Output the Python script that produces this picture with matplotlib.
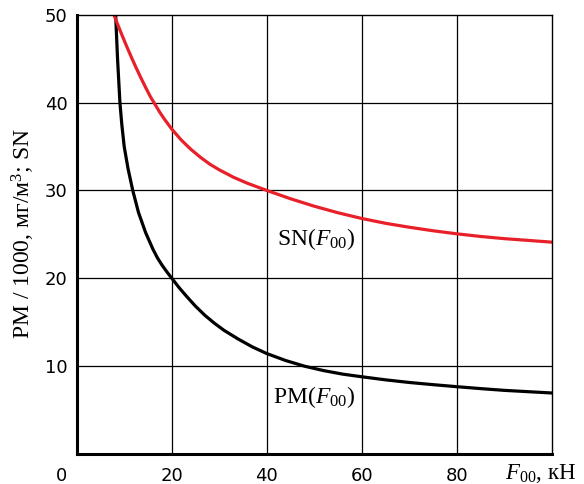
import matplotlib
matplotlib.use('Agg')
import matplotlib.pyplot as plt
from matplotlib.transforms import ScaledTranslation

# values
pm_x = [8.2, 8.4, 8.6, 8.85, 9.1, 9.5, 10.0, 10.8, 11.8, 13.0, 14.5, 16.0, 17.0, 18.0, 19.0,
        20.0, 21.5, 23.0, 25.0, 27.0, 29.0, 31.0, 34.0, 37.0, 40.0, 44.0, 48.0, 52.0, 56.0,
        60.0, 65.0, 70.0, 75.0, 80.0, 85.0, 90.0, 95.0, 100.0]
pm_y = [50.0, 47.5, 45.0, 42.5, 40.0, 37.5, 35.0, 32.5, 30.0, 27.5, 25.2, 23.35, 22.3, 21.45, 20.7,
        20.0, 18.95, 18.0, 16.8, 15.75, 14.85, 14.05, 13.05, 12.15, 11.4, 10.6, 9.95, 9.45, 9.05,
        8.75, 8.4, 8.1, 7.85, 7.62, 7.4, 7.2, 7.05, 6.9]

sn_x = [7.7, 8.5, 9.5, 10.5, 11.5, 12.5, 13.5, 14.5, 15.5, 16.5, 17.5, 18.5, 20.0, 22.0,
        24.0, 26.0, 28.0, 30.0, 33.0, 36.0, 40.0, 45.0, 50.0, 55.0, 60.0, 65.0, 70.0, 75.0,
        80.0, 85.0, 90.0, 95.0, 100.0]
sn_y = [50.2, 49.1, 47.75, 46.45, 45.2, 44.0, 42.85, 41.75, 40.7, 39.8, 38.9, 38.1, 37.0, 35.75,
        34.7, 33.8, 33.0, 32.35, 31.5, 30.8, 30.0, 29.05, 28.2, 27.45, 26.8, 26.25, 25.8, 25.4,
        25.05, 24.75, 24.5, 24.3, 24.1]

x_ticks = [0, 20, 40, 60, 80]
y_ticks = [10, 20, 30, 40, 50]

serif = 'Liberation Serif'
plt.rcParams['mathtext.fontset'] = 'custom'
plt.rcParams['mathtext.rm'] = serif
plt.rcParams['mathtext.it'] = serif + ':italic'

fig = plt.figure(figsize=(5.84, 4.84), dpi=100)
ax = fig.add_axes([76.7 / 584, 1 - 453.5 / 484, (551.7 - 76.7) / 584, (453.5 - 15) / 484])

ax.plot(pm_x, pm_y, color='black', lw=2.3, solid_joinstyle='round')
ax.plot(sn_x, sn_y, color='#e8202a', lw=2.3, solid_joinstyle='round')

ax.set_xlim(0, 100)
ax.set_ylim(0, 50)
ax.set_xticks(x_ticks)
ax.set_yticks(y_ticks)
ax.set_xticklabels([str(v) for v in x_ticks])
ax.set_yticklabels([str(v) for v in y_ticks])
ax.tick_params(axis='both', length=0, labelsize=13)
ax.tick_params(axis='x', pad=9.5)
ax.tick_params(axis='y', pad=6.5)

# the origin label sits left of the axis corner
lbl0 = ax.get_xticklabels()[0]
lbl0.set_transform(lbl0.get_transform() + ScaledTranslation(-15 / 100, 0, fig.dpi_scale_trans))

for v in [20, 40, 60, 80]:
    ax.axvline(v, color='black', lw=0.9, zorder=0)
for v in [10, 20, 30, 40]:
    ax.axhline(v, color='black', lw=0.9, zorder=0)

ax.spines['left'].set_linewidth(2.2)
ax.spines['bottom'].set_linewidth(2.2)
ax.spines['top'].set_linewidth(1.0)
ax.spines['right'].set_linewidth(1.0)

ax.text(42.1, 23.77, r'SN($F_{00}$)', fontsize=17, family=serif, va='baseline', ha='left')
ax.text(41.3, 5.72, r'PM($F_{00}$)', fontsize=17, family=serif, va='baseline', ha='left')

fig.text(505 / 584, 1 - 479 / 484, r'$F_{00}$, кН', fontsize=16.5, family=serif,
         va='baseline', ha='left')
fig.text(23.5 / 584, 1 - 234 / 484, r'PM / 1000, мг/м$^3$; SN', fontsize=17, family=serif,
         rotation=90, va='center', ha='center')

fig.savefig('out.png', dpi=100)
